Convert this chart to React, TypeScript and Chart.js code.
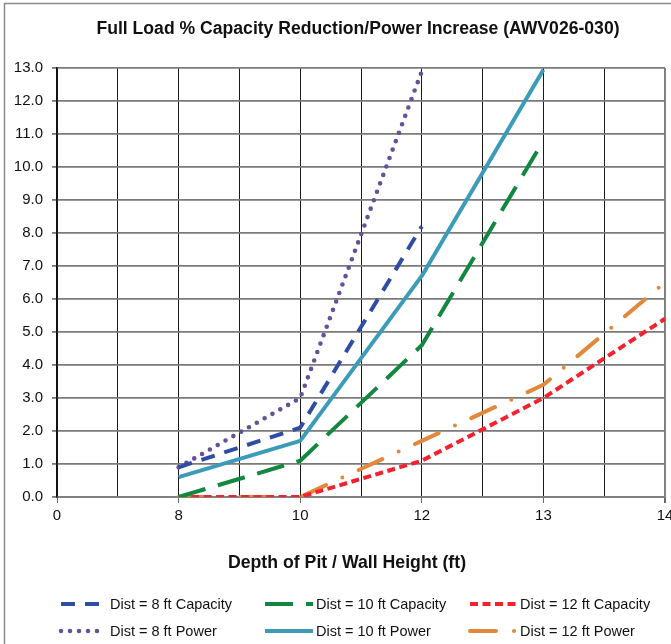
import React, { useEffect, useRef } from 'react';
import { Chart, registerables } from 'chart.js';

Chart.register(...registerables);

// ---- data ----
const xLabels = ['0', '8', '10', '12', '13', '14'];
const cap8 = [null, 0.9, 2.1, 8.2, null, null];
const cap10 = [null, 0.0, 1.1, 4.6, 10.8, null];
const cap12 = [null, 0.0, 0.0, 1.1, 3.0, 5.4];
const pow8 = [null, 0.9, 3.0, 12.9, null, null];
const pow10 = [null, 0.6, 1.7, 6.7, 12.95, null];
const pow12 = [null, 0.0, 0.0, 1.7, 3.4, 6.5];
const seriesLabels = [
  'Dist = 8 ft Capacity',
  'Dist = 10 ft Capacity',
  'Dist = 12 ft Capacity',
  'Dist = 8 ft Power',
  'Dist = 10 ft Power',
  'Dist = 12 ft Power',
];
const chartTitle = 'Full Load % Capacity Reduction/Power Increase (AWV026-030)';
const xTitle = 'Depth of Pit / Wall Height (ft)';
const yMin = 0;
const yMax = 13;

const FONT = '"Liberation Sans", Arial, sans-serif';

const toPoints = (vals: (number | null)[]) =>
  vals
    .map((v, i) => (v == null ? null : { x: i, y: v }))
    .filter((p) => p !== null) as { x: number; y: number }[];

const legendSampleX = [61, 265, 470];
const legendSampleEnd = [102, 313, 517];
const legendTextX = [110, 316, 520];
const legendRowY = [604, 631];

const decorPlugin = {
  id: 'decor',
  afterDraw(chart: any) {
    const ctx = chart.ctx as CanvasRenderingContext2D;
    ctx.save();
    // outer frame (left & top)
    ctx.strokeStyle = '#8a8a8a';
    ctx.lineWidth = 1.5;
    ctx.beginPath();
    ctx.moveTo(4.5, 644);
    ctx.lineTo(4.5, 3.5);
    ctx.lineTo(671, 3.5);
    ctx.stroke();

    // titles
    ctx.fillStyle = '#111';
    ctx.textAlign = 'center';
    ctx.textBaseline = 'middle';
    ctx.font = `bold 17.6px ${FONT}`;
    ctx.fillText(chartTitle, 358, 29);
    ctx.font = `bold 17.7px ${FONT}`;
    ctx.fillText(xTitle, 347, 563);

    // legend
    chart.data.datasets.forEach((ds: any, i: number) => {
      const col = i % 3;
      const row = Math.floor(i / 3);
      const y = legendRowY[row];
      ctx.strokeStyle = ds.borderColor;
      ctx.lineWidth = ds.borderWidth;
      ctx.lineCap = ds.borderCapStyle || 'butt';
      ctx.setLineDash(ds.borderDash || []);
      ctx.beginPath();
      ctx.moveTo(legendSampleX[col], y);
      ctx.lineTo(legendSampleEnd[col], y);
      ctx.stroke();
      ctx.setLineDash([]);
      ctx.font = `14.5px ${FONT}`;
      ctx.textAlign = 'left';
      ctx.textBaseline = 'middle';
      ctx.fillStyle = '#111';
      ctx.fillText(ds.label, legendTextX[col], y + 1);
    });
    ctx.restore();
  },
};

export default function App() {
  const ref = useRef<HTMLCanvasElement | null>(null);

  useEffect(() => {
    document.body.style.margin = '0';
    const canvas = ref.current;
    if (!canvas) return;

    const mk = (
      label: string,
      vals: (number | null)[],
      color: string,
      dash: number[],
      cap: CanvasLineCap,
      width = 4
    ) => ({
      label,
      data: toPoints(vals),
      borderColor: color,
      backgroundColor: color,
      borderWidth: width,
      borderDash: dash,
      borderCapStyle: cap,
      borderJoinStyle: 'round' as CanvasLineJoin,
      pointRadius: 0,
      pointHoverRadius: 0,
      tension: 0,
      fill: false,
    });

    const chart = new Chart(canvas, {
      type: 'line',
      data: {
        datasets: [
          mk(seriesLabels[0], cap8, '#2f4ea3', [14, 10], 'butt'),
          mk(seriesLabels[1], cap10, '#12873f', [28, 13], 'butt'),
          mk(seriesLabels[2], cap12, '#f5222d', [8, 4.5], 'butt'),
          mk(seriesLabels[3], pow8, '#67509a', [0, 9], 'round', 4.6),
          mk(seriesLabels[4], pow10, '#3b9bb8', [], 'butt'),
          mk(seriesLabels[5], pow12, '#e2883c', [26, 18, 0, 18], 'round'),
        ] as any,
      },
      options: {
        responsive: false,
        animation: false,
        events: [],
        layout: { padding: { top: 68, right: 6, bottom: 0, left: 0 } },
        plugins: {
          legend: { display: false },
          title: { display: false },
          tooltip: { enabled: false },
        },
        scales: {
          x: {
            type: 'linear',
            min: 0,
            max: xLabels.length - 1,
            afterFit: (s: any) => {
              s.height = 147;
              s.paddingLeft = 0;
              s.paddingRight = 0;
            },
            ticks: {
              stepSize: 0.5,
              autoSkip: false,
              maxRotation: 0,
              padding: 4,
              color: '#111',
              font: { family: FONT, size: 15 },
              callback: (v: any) => {
                const n = Number(v);
                return Number.isInteger(n) ? xLabels[n] : '';
              },
            },
            grid: {
              color: (c: any) => (c.tick && c.tick.value === xLabels.length - 1 ? '#808080' : '#1a1a1a'),
              lineWidth: (c: any) => (c.tick && c.tick.value === xLabels.length - 1 ? 2 : 1),
              tickColor: (c: any) =>
                c.tick && Number.isInteger(c.tick.value) ? '#666' : 'rgba(0,0,0,0)',
              tickLength: 6,
            },
            border: { display: true, color: '#808080', width: 2 },
          },
          y: {
            type: 'linear',
            min: yMin,
            max: yMax,
            afterFit: (s: any) => {
              s.width = 57;
              s.paddingTop = 0;
              s.paddingBottom = 0;
            },
            ticks: {
              stepSize: 1,
              padding: 9,
              color: '#111',
              font: { family: FONT, size: 15 },
              callback: (v: any) => Number(v).toFixed(1),
            },
            grid: {
              color: '#7a7a7a',
              lineWidth: 1.8,
              tickColor: '#7a7a7a',
              tickLength: 5,
            },
            border: { display: true, color: '#111', width: 1.5 },
          },
        },
      },
      plugins: [decorPlugin],
    });

    return () => chart.destroy();
  }, []);

  return (
    <div style={{ width: 671, height: 644, background: '#fff' }}>
      <canvas ref={ref} width={671} height={644} style={{ display: 'block' }} />
    </div>
  );
}
